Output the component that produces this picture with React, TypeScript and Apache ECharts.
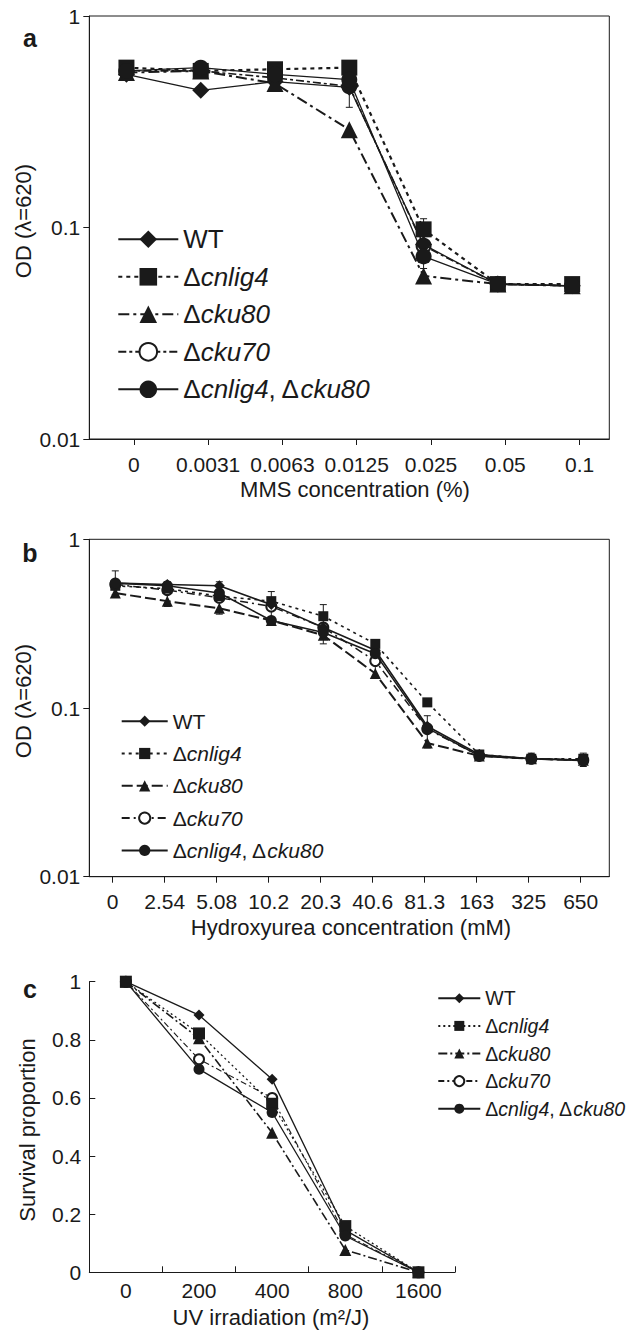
import React, { useEffect, useRef } from 'react';
import * as echarts from 'echarts';

// ---------- data ----------
const strainKeys = ['WT', 'cnlig4', 'cku80', 'cku70', 'double'];

const mmsLabels = ['0', '0.0031', '0.0063', '0.0125', '0.025', '0.05', '0.1'];
const mmsWT = [0.53, 0.445, 0.49, 0.46, 0.083, 0.054, 0.053];
const mmsCnlig4 = [0.57, 0.55, 0.56, 0.57, 0.098, 0.054, 0.054];
const mmsCku80 = [0.54, 0.55, 0.48, 0.29, 0.059, 0.054, 0.053];
const mmsCku70 = [0.55, 0.55, 0.51, 0.465, 0.082, 0.054, 0.053];
const mmsDouble = [0.55, 0.57, 0.53, 0.5, 0.073, 0.054, 0.053];
const mmsErrors = [
  [3, 0.37, 0.5],
  [4, 0.064, 0.11],
];

const huLabels = ['0', '2.54', '5.08', '10.2', '20.3', '40.6', '81.3', '163', '325', '650'];
const huWT = [0.55, 0.54, 0.53, 0.41, 0.3, 0.22, 0.078, 0.053, 0.05, 0.049];
const huCnlig4 = [0.53, 0.51, 0.46, 0.43, 0.35, 0.24, 0.108, 0.053, 0.05, 0.05];
const huCku80 = [0.48, 0.43, 0.39, 0.33, 0.27, 0.16, 0.062, 0.052, 0.05, 0.049];
const huCku70 = [0.54, 0.5, 0.45, 0.4, 0.3, 0.19, 0.075, 0.052, 0.05, 0.049];
const huDouble = [0.55, 0.53, 0.48, 0.33, 0.28, 0.21, 0.076, 0.052, 0.05, 0.049];
const huErrors = [
  [0, 0.47, 0.65],
  [1, 0.4, 0.56],
  [2, 0.36, 0.56],
  [3, 0.31, 0.49],
  [4, 0.24, 0.41],
  [5, 0.15, 0.25],
  [6, 0.058, 0.09],
  [7, 0.049, 0.056],
  [8, 0.047, 0.054],
  [9, 0.045, 0.054],
];

const uvLabels = ['0', '200', '400', '800', '1600'];
const uvWT = [1, 0.885, 0.664, 0.145, 0];
const uvCnlig4 = [1, 0.822, 0.58, 0.159, 0];
const uvCku80 = [1, 0.805, 0.48, 0.077, 0];
const uvCku70 = [1, 0.733, 0.6, 0.13, 0];
const uvDouble = [1, 0.699, 0.55, 0.125, 0];

const odTicks = [0.01, 0.1, 1];

// ---------- styles ----------
const FONT = 'Liberation Sans, Arial, Helvetica, sans-serif';
const INK = '#1a1a1a';

const symbols: Record<string, string> = {
  WT: 'diamond',
  cnlig4: 'rect',
  cku80: 'triangle',
  cku70: 'emptyCircle',
  double: 'circle',
};

const legendRich = (key: string) => {
  if (key === 'WT') return '{u|WT}';
  if (key === 'double') return '{u|Δ}{i|cnlig4}{u|, Δ}{i|cku80}';
  return '{u|Δ}{i|' + key + '}';
};

const dashA: Record<string, any> = {
  WT: { type: 'solid', width: 1.3 },
  cnlig4: { type: [4, 4], width: 2.2 },
  cku80: { type: [11, 4, 3, 4], width: 2 },
  cku70: { type: [8, 3, 3, 3], width: 1.6 },
  double: { type: 'solid', width: 1.3 },
};
const dashB: Record<string, any> = {
  WT: { type: 'solid', width: 1.6 },
  cnlig4: { type: [3, 4], width: 1.6 },
  cku80: { type: [11, 4], width: 2 },
  cku70: { type: [8, 4, 2, 4], width: 1.5 },
  double: { type: 'solid', width: 1.6 },
};
const dashC: Record<string, any> = {
  WT: { type: 'solid', width: 1.3 },
  cnlig4: { type: [2, 3], width: 1.3 },
  cku80: { type: [9, 3, 2, 3], width: 1.6 },
  cku70: { type: [6, 3, 2, 3], width: 1.1 },
  double: { type: 'solid', width: 1.3 },
};

const sizeA: Record<string, number> = { WT: 17, cnlig4: 16, cku80: 17, cku70: 14, double: 16 };
const sizeB: Record<string, number> = { WT: 11, cnlig4: 10, cku80: 11, cku70: 10, double: 11 };
const sizeC: Record<string, number> = { WT: 11, cnlig4: 12, cku80: 12, cku70: 10, double: 11 };

function lineSeries(panel: string, key: string, data: number[], xi: number, yi: number, dash: any, size: number) {
  return {
    type: 'line',
    name: panel + ':' + key,
    xAxisIndex: xi,
    yAxisIndex: yi,
    data,
    symbol: symbols[key],
    symbolSize: size,
    showSymbol: true,
    lineStyle: { color: INK, width: dash.width, type: dash.type },
    itemStyle: { color: INK, borderColor: INK, borderWidth: key === 'cku70' ? 1 : 0 },
    z: key === 'cku70' ? 2 : 3,
  };
}

function errorSeries(data: number[][], xi: number, yi: number) {
  return {
    type: 'custom',
    xAxisIndex: xi,
    yAxisIndex: yi,
    data,
    encode: { x: 0, y: [1, 2] },
    z: 1,
    renderItem: (params: any, api: any) => {
      const x = api.value(0);
      const p1 = api.coord([x, api.value(1)]);
      const p2 = api.coord([x, api.value(2)]);
      const w = 3.5;
      const st = { stroke: INK, lineWidth: 1 };
      return {
        type: 'group',
        children: [
          { type: 'line', shape: { x1: p1[0], y1: p1[1], x2: p2[0], y2: p2[1] }, style: st },
          { type: 'line', shape: { x1: p1[0] - w, y1: p1[1], x2: p1[0] + w, y2: p1[1] }, style: st },
          { type: 'line', shape: { x1: p2[0] - w, y1: p2[1], x2: p2[0] + w, y2: p2[1] }, style: st },
        ],
      };
    },
  };
}

function legendFor(panel: string, left: number, top: number, itemWidth: number, itemHeight: number, fontSize: number, itemGap: number) {
  return {
    data: strainKeys.map((k) => panel + ':' + k),
    orient: 'vertical',
    left,
    top,
    itemWidth,
    itemHeight,
    itemGap,
    selectedMode: false,
    padding: 0,
    formatter: (name: string) => legendRich(name.split(':')[1]),
    textStyle: {
      fontSize,
      lineHeight: fontSize,
      color: INK,
      fontFamily: FONT,
      rich: {
        u: { fontSize, lineHeight: fontSize, color: INK, fontFamily: FONT },
        i: { fontSize, lineHeight: fontSize, color: INK, fontFamily: FONT, fontStyle: 'italic' },
      },
    },
  };
}

const tickLabel = { color: INK, fontFamily: FONT, fontSize: 21 };
const axisLineStyle = { onZero: false, lineStyle: { color: INK, width: 1 } };

export default function App() {
  const ref = useRef<HTMLDivElement>(null);

  useEffect(() => {
    if (!ref.current) return;
    const chart = echarts.init(ref.current, undefined, { renderer: 'svg' });

    const mmsSeries = [mmsWT, mmsCnlig4, mmsCku80, mmsCku70, mmsDouble];
    const huSeries = [huWT, huCnlig4, huCku80, huCku70, huDouble];
    const uvSeries = [uvWT, uvCnlig4, uvCku80, uvCku70, uvDouble];

    const option: any = {
      animation: false,
      backgroundColor: '#ffffff',
      grid: [
        { left: 89.3, top: 16, width: 520, height: 423, show: true, borderColor: INK, borderWidth: 1, backgroundColor: 'transparent' },
        { left: 89.3, top: 539.3, width: 520, height: 337.4, show: true, borderColor: INK, borderWidth: 1, backgroundColor: 'transparent' },
        { left: 89.3, top: 981.7, width: 365.7, height: 290.6 },
      ],
      xAxis: [
        {
          gridIndex: 0,
          type: 'value',
          min: -0.6,
          max: 6.4,
          axisLine: { show: true, ...axisLineStyle },
          axisTick: { show: true, inside: false, length: 6, customValues: mmsLabels.map((_, i) => i), lineStyle: { color: INK } },
          axisLabel: { ...tickLabel, margin: 15, customValues: mmsLabels.map((_, i) => i), formatter: (v: number) => mmsLabels[Math.round(v)] },
          splitLine: { show: false },
        },
        { gridIndex: 0, type: 'category', data: mmsLabels, boundaryGap: true, show: false },
        {
          gridIndex: 1,
          type: 'value',
          min: -0.45,
          max: 9.55,
          axisLine: { show: true, ...axisLineStyle },
          axisTick: { show: true, inside: false, length: 6, customValues: huLabels.map((_, i) => i), lineStyle: { color: INK } },
          axisLabel: { ...tickLabel, margin: 14, customValues: huLabels.map((_, i) => i), formatter: (v: number) => huLabels[Math.round(v)] },
          splitLine: { show: false },
        },
        { gridIndex: 1, type: 'category', data: huLabels, boundaryGap: true, show: false },
        {
          gridIndex: 2,
          type: 'category',
          data: uvLabels,
          boundaryGap: true,
          axisLine: { show: true, ...axisLineStyle },
          axisTick: { show: true, inside: true, length: 6, lineStyle: { color: INK } },
          axisLabel: { ...tickLabel, margin: 8 },
          splitLine: { show: false },
        },
      ],
      yAxis: [
        {
          gridIndex: 0,
          type: 'log',
          logBase: 10,
          min: 0.01,
          max: 1,
          axisLine: { show: true, ...axisLineStyle },
          axisTick: { show: true, inside: false, length: 6, customValues: odTicks, lineStyle: { color: INK } },
          axisLabel: { ...tickLabel, margin: 9, customValues: odTicks, formatter: (v: number) => String(+v.toPrecision(3)) },
          splitLine: { show: false },
          minorTick: { show: false },
        },
        {
          gridIndex: 1,
          type: 'log',
          logBase: 10,
          min: 0.01,
          max: 1,
          axisLine: { show: true, ...axisLineStyle },
          axisTick: { show: true, inside: false, length: 6, customValues: odTicks, lineStyle: { color: INK } },
          axisLabel: { ...tickLabel, margin: 9, customValues: odTicks, formatter: (v: number) => String(+v.toPrecision(3)) },
          splitLine: { show: false },
          minorTick: { show: false },
        },
        {
          gridIndex: 2,
          type: 'value',
          min: 0,
          max: 1,
          interval: 0.2,
          axisLine: { show: true, ...axisLineStyle },
          axisTick: { show: true, inside: true, length: 6, lineStyle: { color: INK } },
          axisLabel: { ...tickLabel, margin: 8, formatter: (v: number) => String(+v.toFixed(1)) },
          splitLine: { show: false },
        },
      ],
      legend: [
        legendFor('a', 117.3, 226.3, 60, 22, 26, 11.5),
        legendFor('b', 120.7, 710.7, 46, 14, 21, 11.3),
        legendFor('c', 437.3, 988.3, 42, 12.5, 19.5, 7.6),
      ],
      series: [
        ...strainKeys.map((k, i) => lineSeries('a', k, mmsSeries[i], 1, 0, dashA[k], sizeA[k])),
        errorSeries(mmsErrors, 1, 0),
        ...strainKeys.map((k, i) => lineSeries('b', k, huSeries[i], 3, 1, dashB[k], sizeB[k])),
        errorSeries(huErrors, 3, 1),
        ...strainKeys.map((k, i) => lineSeries('c', k, uvSeries[i], 4, 2, dashC[k], sizeC[k])),
      ],
      graphic: [
        { type: 'text', x: 30, y: 38, style: { text: 'a', fontSize: 25, fontWeight: 'bold', fontFamily: FONT, fill: INK, align: 'center', verticalAlign: 'middle' } },
        { type: 'text', x: 30, y: 553, style: { text: 'b', fontSize: 25, fontWeight: 'bold', fontFamily: FONT, fill: INK, align: 'center', verticalAlign: 'middle' } },
        { type: 'text', x: 30, y: 989, style: { text: 'c', fontSize: 25, fontWeight: 'bold', fontFamily: FONT, fill: INK, align: 'center', verticalAlign: 'middle' } },
        { type: 'text', x: 23, y: 221, rotation: Math.PI / 2, style: { text: 'OD (λ=620)', fontSize: 22, fontFamily: FONT, fill: INK, align: 'center', verticalAlign: 'middle' } },
        { type: 'text', x: 23, y: 701, rotation: Math.PI / 2, style: { text: 'OD (λ=620)', fontSize: 22, fontFamily: FONT, fill: INK, align: 'center', verticalAlign: 'middle' } },
        { type: 'text', x: 27, y: 1130, rotation: Math.PI / 2, style: { text: 'Survival proportion', fontSize: 22, fontFamily: FONT, fill: INK, align: 'center', verticalAlign: 'middle' } },
        { type: 'text', x: 355, y: 489, style: { text: 'MMS concentration (%)', fontSize: 22, fontFamily: FONT, fill: INK, align: 'center', verticalAlign: 'middle' } },
        { type: 'text', x: 351, y: 927, style: { text: 'Hydroxyurea concentration (mM)', fontSize: 22, fontFamily: FONT, fill: INK, align: 'center', verticalAlign: 'middle' } },
        { type: 'text', x: 271, y: 1317, style: { text: 'UV irradiation (m²/J)', fontSize: 22, fontFamily: FONT, fill: INK, align: 'center', verticalAlign: 'middle' } },
      ],
    };

    chart.setOption(option);
    return () => chart.dispose();
  }, []);

  return (
    <div
      ref={ref}
      style={{ position: 'absolute', left: 0, top: 0, width: 630, height: 1330, background: '#fff' }}
    />
  );
}
